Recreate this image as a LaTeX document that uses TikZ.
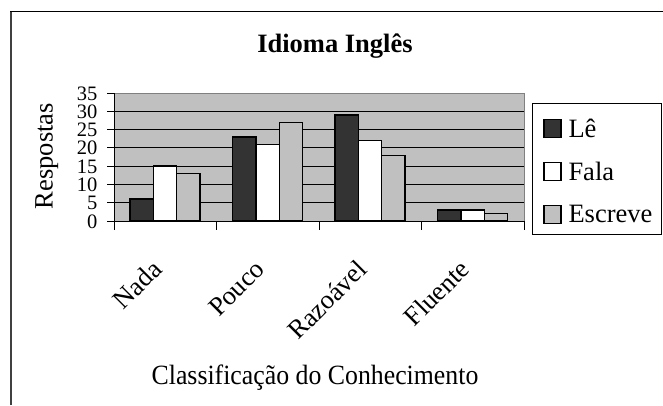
\documentclass[tikz,border=0pt]{standalone}
\usepackage{fontspec}
\setmainfont{Liberation Serif}
\definecolor{plotbg}{HTML}{C0C0C0}
\definecolor{darkbar}{HTML}{333333}
\definecolor{plotedge}{HTML}{808080}
\definecolor{framegray}{HTML}{404040}
\newcommand{\bigtxt}{\fontsize{26.5}{30}\selectfont}
\newcommand{\axtxt}{\fontsize{25.8}{30}\selectfont}
\newcommand{\numtxt}{\fontsize{20.5}{22}\selectfont}
\begin{document}
\begin{tikzpicture}[x=1pt,y=-1pt,
  bar/.style={draw=black,line width=1.3pt},
  swatch/.style={draw=black,line width=1.3pt,minimum width=17pt,minimum height=18pt,inner sep=0pt},
  lab/.style={inner sep=0pt,font=\bigtxt},
  ticklab/.style={inner sep=0pt,font=\numtxt,anchor=base east},
  catlab/.style={inner sep=0pt,font=\bigtxt,anchor=base east,rotate=45}]
\useasboundingbox (0,0) rectangle (663,405);
\fill[white] (0,0) rectangle (663,405);
% outer frame
\draw[framegray,line width=2pt] (11,405) -- (11,11.5);
\draw[black,line width=1pt] (10,11.5) -- (663,11.5);
% title
\node[lab,anchor=base,font=\bigtxt\bfseries] (title) at (335,52.7) {Idioma Inglês};
% plot area
\fill[plotbg] (114.3,93.3) rectangle (524.3,221);
\draw[plotedge,line width=1pt] (114.3,93.3) -- (524.3,93.3) -- (524.3,221);
\foreach \v in {5,10,...,30}{
  \draw[black,line width=0.8pt] (114.3,{221-\v*128/35}) -- (524.3,{221-\v*128/35});
}
% bars
\foreach \i/\a/\b/\c in {0/6/15/13,1/23/21/27,2/29/22/18,3/3/3/2}{
  \pgfmathsetmacro{\xs}{114.3+\i*102.5+15.8}
  \draw[bar,fill=darkbar] (\xs,221) rectangle ({\xs+23.33},{221-\a*128/35});
  \draw[bar,fill=white] ({\xs+23.33},221) rectangle ({\xs+46.67},{221-\b*128/35});
  \draw[bar,fill=plotbg] ({\xs+46.67},221) rectangle ({\xs+70},{221-\c*128/35});
}
% axes
\draw[black,line width=1pt] (114.3,93.3) -- (114.3,221) -- (524.3,221);
\foreach \v in {0,5,...,35}{
  \draw[black,line width=1pt] (107,{221-\v*128/35}) -- (114.3,{221-\v*128/35});
  \node[ticklab] at (97.5,{221-\v*128/35+7}) {\v};
}
\foreach \i in {0,...,4}{
  \draw[black,line width=1pt] ({114.3+\i*102.5},221) -- ({114.3+\i*102.5},230);
}
% category labels
\node[catlab] (c1) at ({114.3+0.5*102.5-2},271) {Nada};
\node[catlab] (c2) at ({114.3+1.5*102.5-2},271) {Pouco};
\node[catlab] (c3) at ({114.3+2.5*102.5-2},271) {Razoável};
\node[catlab] (c4) at ({114.3+3.5*102.5-2},271) {Fluente};
% axis titles
\node[inner sep=0pt,font=\axtxt,anchor=base,yscale=1.08] (xt) at (315,384.3) {Classificação do Conhecimento};
\node[lab,anchor=base,rotate=90] (yt) at (52.5,156) {Respostas};
% legend
\draw[black,line width=1pt,fill=white] (532.7,103.3) rectangle (661.7,234);
\node[swatch,fill=darkbar] (s1) at (552.5,128.8) {};
\node[swatch,fill=white] (s2) at (552.5,171.7) {};
\node[swatch,fill=plotbg] (s3) at (552.5,214.7) {};
\node[lab,anchor=base west] (l1) at (568.3,137.3) {Lê};
\node[lab,anchor=base west] (l2) at (568.3,180.2) {Fala};
\node[lab,anchor=base west] (l3) at (568.3,222.9) {Escreve};
\end{tikzpicture}
\end{document}
